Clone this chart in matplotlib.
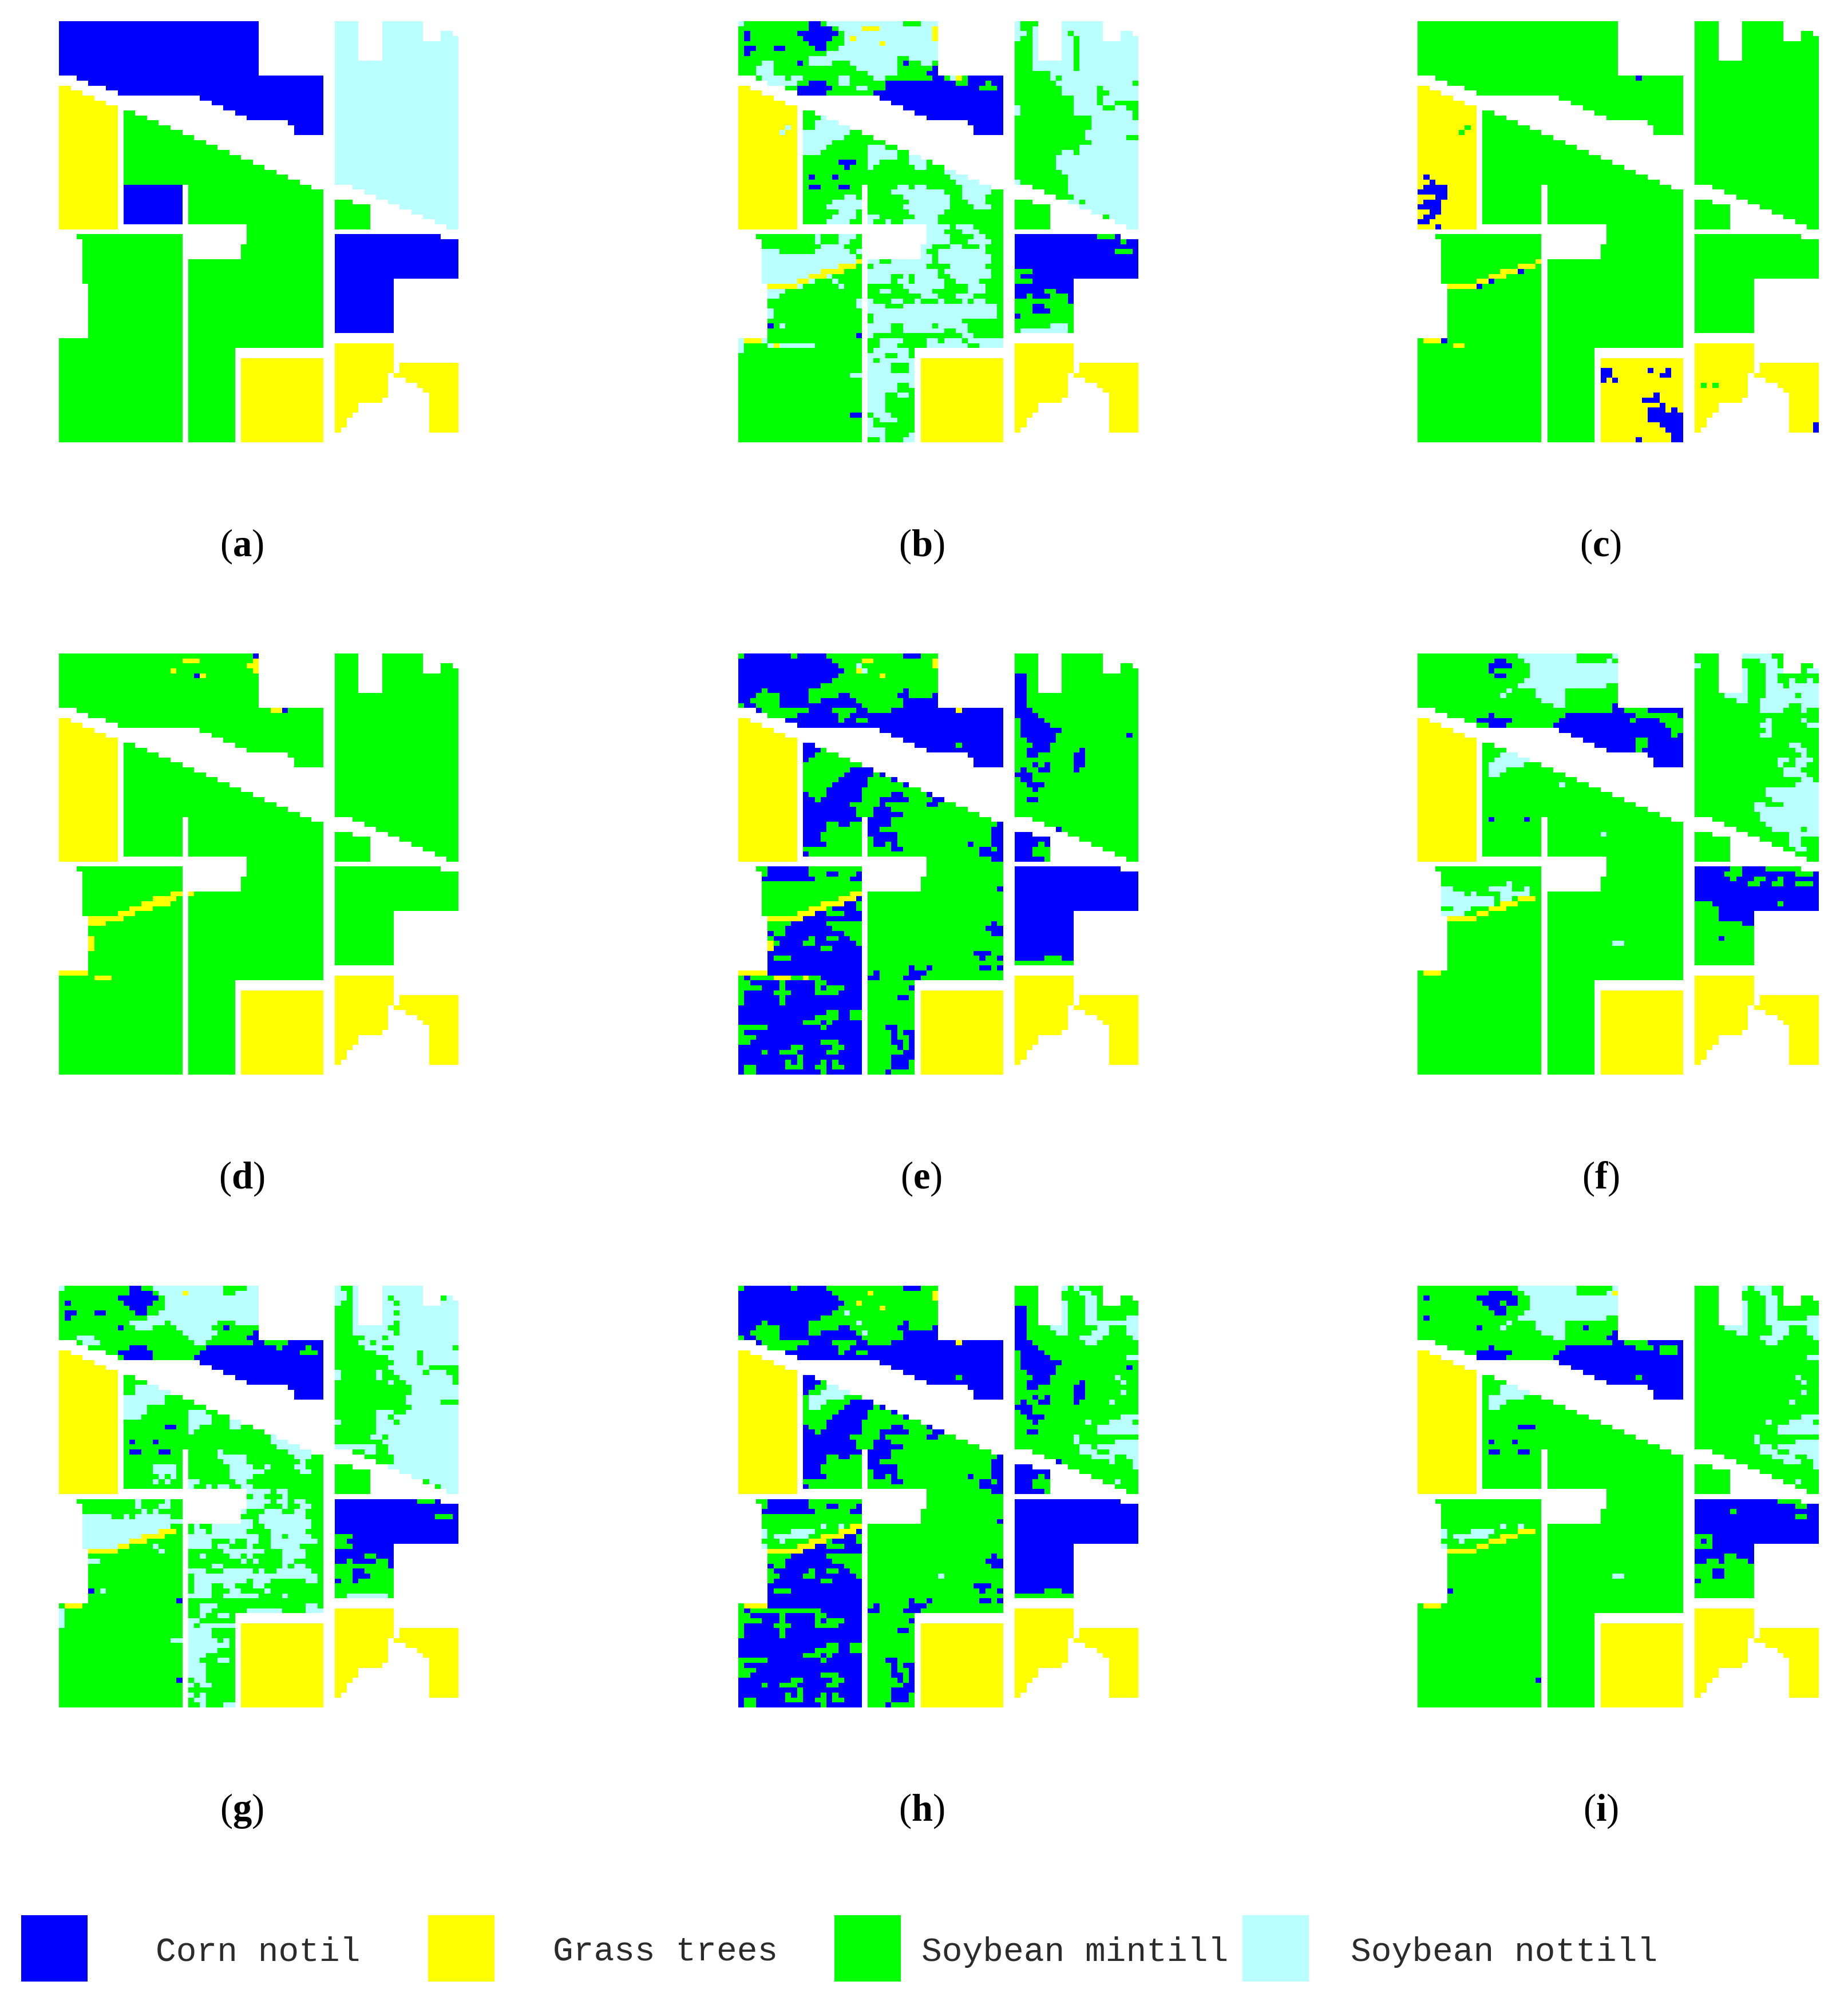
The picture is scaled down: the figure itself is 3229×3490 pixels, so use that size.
"""Mapas de clasificacion (a)-(i) sobre la misma escena, con leyenda abajo."""
import matplotlib
matplotlib.use("Agg")
import matplotlib.pyplot as plt
import numpy as np
from matplotlib.colors import ListedColormap
from matplotlib.patches import Rectangle

W, H = 3230, 3491
N_ROWS, N_COLS = 85, 68

BLANK, CORN, GRASS, MINT, NOTT = 0, 1, 2, 3, 4
CLASS_NAMES = ["Corn notil", "Grass trees", "Soybean mintill", "Soybean nottill"]
CLASS_COLORS = ["#0000ff", "#ffff00", "#00ff00", "#baffff"]
PANEL_LABELS = ["a", "b", "c", "d", "e", "f", "g", "h", "i"]

# Parcelas de la escena: "fila:col0-col1,..." (extremos excluidos)
FIELDS = [
    "0-11:0-34 11:3-45 12:5-45 13:8-45 14:10-45 15:24-45 16:26-45 17:28-45 18:30-45 19:32-45 20:39-45 21-23:40-45",
    "13:0-2 14:0-4 15:0-6 16:0-8 17-42:0-10",
    "18:11-13 19:11-15 20:11-17 21:11-19 22:11-21 23:11-23 24:11-25 25:11-27 26:11-29 27:11-31 28:11-33 29:11-35 "
    "30:11-37 31:11-39 32:11-41 33:22-43 34-41:22-45 41-45:32-45 45-48:31-45 48-66:22-45 66-85:22-30",
    "33-41:11-21",
    "43:3-21 44-53:4-21 53-64:5-21 64-85:0-21",
    "68-85:31-45",
    "0-2:47-51,55-62 2:47-51,55-62,65-67 3:47-51,55-62,65-68 4-8:47-51,55-68 8-33:47-68 33:50-68 34:52-68 "
    "35:54-68 36:56-68 37:58-68 38:60-68 39:62-68 40:64-68 41:66-68",
    "36:47-50 37-42:47-53",
    "43:47-65 44-52:47-68 52-63:47-57",
    "65-69:47-57 69-71:47-57,58-68 71:47-56,57-68 72:47-56,59-68 73:47-56,61-68 74:47-56,62-68 75:47-56,63-68 "
    "76:47-55,63-68 77-79:47-51,63-68 79:47-50,63-68 80-82:47-49,63-68 82:47-48,63-68",
]

# Clase base de cada parcela por panel
BASE_A = [CORN, GRASS, MINT, CORN, MINT, GRASS, NOTT, MINT, CORN, GRASS]
BASE_MIX = [MINT, GRASS, MINT, MINT, MINT, GRASS, NOTT, MINT, CORN, GRASS]
BASE_FLAT = [MINT, GRASS, MINT, MINT, MINT, GRASS, MINT, MINT, MINT, GRASS]
BASE_E = [MINT, GRASS, MINT, MINT, CORN, GRASS, MINT, CORN, CORN, GRASS]

# --- panel b
B_CORN = ("0:12-14 1:12-16 2:10-17 3:11-16 4:12-15 5:13-15 2-4:1 5:1-3,6-8 6:1 8:10,28 9:33 10:32-34 11:33-35,39-45 "
          "12:12-15,25-37,39-42,43-45 13:10-16,25-41,44 14:10-15,23-45 15-23:24-46 28:17-20 29:18 31:12,16 33:12-14,17-19 "
          "61:5 63:20 79:19-21 43:47-61,64 44:47-65,66-68")
B_NOTT = ("0:0,15-28,31-34 1:17-34 2-5:18-34 5:17-34 6:15-34 7:12-27,29-34 8:4-6,12-16,19-27,31-33 9:3-6,20-27 10:3-6,22-27 "
          "11:4-8,9-11,17-19,23-25,36 12:5-10,17-19 13:20-22 21:8 22:7 "
          "19:14 20:13-17 21:13-19 22:11-19 23:11-18 24:11-16 25:11-15,22-25 26:11-14,22-27 27:22-27,29-31 28:22-24,29-32 "
          "29:22,30-32 30:35-37 31:36-39 32:37-41 33:38-43,27-29,30-32 34:38-43,26-35 35:38-42,18-20,28-36 "
          "36:16-21,29-36,39-42 37:15-21,28-36,40-43 38:17-20,29-35 39:16-20,22-24,30-34 40:15-19,22,25,28-34 "
          "41:32-36,37-40 42:32-35,38-41 43:32-36,40-42 44:32-36,39-43 45:31-33,36-38,41 46:31,34-42 47:31-33,34-43 "
          "48:22-24,26-33,34-43 49:23-32,36-42 50:22-34,35-43 51:22-26,28,30-34,36-43 52:22-26,27-29,30-35,37-41 "
          "53:28-35,39-42 54:24-26,29-33,39-42 55:31-34,37-40 56:22,26-28,30,34,38,40-42 57:22-25,28-44 58:22-44 59:23-44 "
          "60:23-38 61:22-26,28-33,34-39 62:22-26,28-35,37-39 63:22,38-40 64:24-28,32-34,35-38,39-45 65:24-27,32-39,41-45 "
          "66:23-29 67:22-25,27-29 68:22,24-30 69-71:22-26,29 71-73:22-30 73:22-27,29 74:22-27 75:22-25,27-29 76-79:22-25 "
          "79:23-26 80:22,24-27 81:22 82-84:22-25 83:29 84:24,28-30 "
          "43:13,17-20 44:13,17-19 45:14-18 46:4-7,13-19,20 47-49:4-20 49:4-17 50:4-14 51:4-12,15 52:4-10,12,16 53:10,17 "
          "54:5-8 55:5-7 56-58:20 58-60:5 61:7 64:0,4 65:0,5,7-13 66:0 71:19-21")
B_MINT = ("0:28-31 18:37 "
          "0:48-51 1:48-50 2:49,56 3:48-50,57 4-8:47-50,57 8-10:47-50,57 10:47-53 11:47-53,54 12:47-54,67 13-15:47-55,61 14:47-55,61-63 "
          "15:47-57,61 16:47-57,61,64,65-68 17:48-57,62-64,66-68 18:48-57,67 19-22:47-60 19:67 22-24:47-59 23:66-68 24:47-60 "
          "25:47-58 26:47-55,57 27-30:47-54 30:47-55 31:47-56 32:48-56 33:50-56 34:52-56 35:54-57 36:58 39:62 "
          "43:61-64 44:65 46:64-67 50:47-50 51:47 52:47-50 54:52-54 55:49,53-56 56:47-56 57-59:47-50,53-57 59:48-57 60:47-57 "
          "61:47-53,56 62:47,56 57:52-57")
B_NOTT2 = "61:53-56 62:48-56"
B_GRASS = ("1:21-24 1-3:33 3:33,19 4:24 11:37 48:20 49:17-20 50:14-18 51:12-15 52:10-12 53:5-10 64:1-4 65:6")

# --- panel c
C_CORN = ("11:37 31:1 32:2 33:1-5 34:0-5 35:3-5 36:1-4 37:0-4 38:2-4 39:1-3 40:0-2 41:3 50:17 52:12 53:10 64:4 "
          "70:31-33,39,42 71:31-33,41-43 72:31,33 75:40 76:38-41 77:41 78:39-42,43 79-81:39-45 81:41-45 82:42-45 83:43-45 "
          "84:37,43-45 81-83:67")
C_MINT = "21:8 22:7 73:48,50"
C_GRASS = "48:20 49:17-20 50:14-17 51:12-15 52:10-12 53:5-10 64:1-4 65:6-8"

# --- panel d
D_CORN = "0:33 4:23 11:38"
D_GRASS = ("1:21-24,33 2:32-34 3:33,19 4:24 11:36-38 48:19-21,22 49:16-20 50:14-19 51:12-16 52:10-13 53:5-11 54:5-8 "
           "57-60:5 64:0-5 65:6-9")

# --- paneles e y h (muy parecidos)
EH_CORN = ("0:1-9,10-15,28-31 1:0-16 2:0-17 3:0-18 4:0-17 5:0-16 6:0-14 7:0-4,5-12,28 8:0-3,7-12,17-19,27-29,33 "
           "9:0-2,7-12,14-20,28-34 10:1-3,7-21,28-34 11:3,12-16,20-22,26-45 12:10-17,19-45 13:8-17,18-20,22-45 14:10-45 "
           "15-23:24-46 18:11-13 19:11-14 20:11-13 21:11 23:19-23 24:18-23,24 25:17-22,26 26:16-22,28 27:15-21 "
           "28:11,15-21,26-28,32 29:11-13,14-21,24-29,33-35 30:11-19,24,32-34 31:11-20,23-26 32:11-20,23-28 33:11-21,22-26 "
           "34:11-15,17-19,22-26,44 35:11-15,22-24,43-45 36:11-14,22-27,43-45 37:11-14,23-27,43-45 38:11-15,23-25,26,39,43-45 "
           "39:26-28,41-43,44 40:11,41-45 41:43-45 47:44 54:43 55:42-45 56:43-45 60:40-43 61:41,44 63:29,32,41-43,44 "
           "64:23,29-32 65:22-24,28-31 67:29 69:27-29 75:25-27 76:26,28-30 77:26,29 78:26-28,29 79:27,29 80:28-30 81:26-30 "
           "82-84:26-29 84:25 "
           "4-11:47-49 11:47-50 12:47-51 13:48-52 14:48-53 15:48-55 16:48-54,66 17:49-54 18:50-53 19:49-53,58 20:49-51,57-59 "
           "21:57-59 22:50,52,57-59 23:48,51-53,57 24:47-50 25:48-50 26:49-52 27:50 29:49-51 35:54")
EH_MINT = ("18:37 43:3-5,12-21 44:4,12-15,17-20 45:13-19 46-48:4-21 48:4-19 49:4-17 50:4-14,20 51:4-12,15,20 "
           "52:4-10,15-18 54:5-9,15-21 55:5-8,16-21 56:6-8,18-21 57:5,12,15-17,19-21 58:6,11-13,20 59:14-16 61:6-9 "
           "65:0,2-6,9-11,12-14 66:0-2,7,13-15 67:0-4,7,13,15-18 68:0,6-9,13-17 69-71:0,7 72:15-17,19-21 73:13-17,19-21 "
           "74:11-14,15 75:0-5,14 76:0 77:0-3 78:0-2,14-17 79:9-11,16-18 80:4,7-10,15-17 81:10 82:8,10,14,16 "
           "83:1-3,8-11,13-15,16-18 84:1-3,14 "
           "38:51 39-41:50-53 41:52 61:52-55 62:47-57")
E_NOTT = "2:20 3:21"
E_GRASS = ("1:21-23 1-3:33 3:20 4:24 11:37 48:19-21 49:17-20 50:14-18 51:12-15 52:10-13 53:5-11 58-60:5 64:0-5 65:6-9,11")
H_MINT = "65:2-14 58-60:5 64:0"
H_NOTT = ("5:18 7:20 9:21 20:15-17 21:14-19 22:12-18 23:12-15 24:12-14 48:14,17 49:4,9-13 50:4,6-12 51:7 52:4 58:34 "
          "0:55,57 1:58-60 2:59-61 3-7:59-61 3-8:55 6:66-68 7:59-68 8:53-56,61-63,66-68 9:54-56,60-63,66-68 10:58-62,67 "
          "11:59-61 14:66-68 18:64 19:65 21:65 23:63 26:65-68 27:59,63-67 28-30:61-68 30:57 31:57-58,64-68 32:58-60,61-68 "
          "33:58-61,63-68 34:60-64,66-68 35:63,67 36:67 39:64")
H_GRASS = "1:22 1-3:33 3:20 4:24 11:37 48:19-21 49:17-20 50:14-18 51:12-15 52:10-13 53:5-11 64:1-5"

# --- panel f
F_CORN = ("1:13-15 2:12-16 3:12 4:13-15 10:33 11:33-35,39-45 12:12,25-37,44 13:10-16,24-36,37-41 14:12-15,23-42 15:24-43 "
          "16:26-43,44 17:28-37,39-45 18:30-37,39-45 19:32-37,38-45 20-23:39-45 33:12,18 "
          "43:47-53,55-59,65 44:47-52,55-64,67 45:47-53,54-57,59-61,62-68 46:47-56,58-60,62-64,67 47-50:47-68 "
          "50:50-61,62-68 51:51-68 52-54:51-57 54:55-57 57:51")
F_NOTT = ("0:17-27,33 1:18-27,32 2-5:19-34 5:18-34 6:17-32 7:20-25,15 8:20-25,14 9:21-25 10:23-25 "
          "20:14-17 21:13-19 22:12-18 23:12-15 24:12-14 26:24 36:31 46:15 47:4-6,12-16,18 48:4-8,9,14-19 49:4-13,14-16 "
          "50:4-13 51:6-9 52:4-8 58:33-35 "
          "0:55-60 1:58-61 2:47,59-61 3:55,59-62,66-68 4:55,59-61 5:55,59-61,63,66 6:55,59-62,63-68 7:59-68,55 "
          "8:52-56,59-64,65-68 9:54-56,58-68 10:58-63,65-68 11:58-62,65 13:59,65 14:58-60,66-68 15:59 16:58-60 18:63-65 "
          "19:64-66 20:65 21:61-63,64-67 22:61,64-66 23:62-65 24:62-66 25:65-67 26:64-68 27-29:59-68 29:60-68 30:57-59,62-68 "
          "31:57-68 32-34:58-68 34:59-68 35:60-65,66-68 36:63-68 37-39:63-65 39:64-66")
F_GRASS = "49:17-20 50:14-17 51:12-15 52:10-12 53:5-10 64:1-4"

# --- panel g
G_CORN = ("0:12-14 1:12-16 2:10-17 3:11-16,1 4:12-15 5:1-3,6-8,13-15 6:1 8:10,28 9:33 10:32-34 11:33-35,39-45 "
          "12:12-15,25-37,38-42,43-45 13:10-16,24-41,44 14:11-16,23-45 15-23:24-46 28:18-20 31:12,16 33:12-14,17-19 "
          "61:5 63:20 79:20")
G_NOTT = ("0:0,16-28,32-34 1:17-28,30-34 2-5:18-34 5:17-34 6:15-34 7:12-18,19-27,30-34 8:13-16,20-26 9:21-27 10:3-6,22-26 "
          "11:4-7,23-25 20:13-17 21:13-19 22-24:11-18 24:11-15 25:11-15,22-25 26:11-14,22-26 27:22-26,29-31 28:22-24,29-31 "
          "29:22 30:36 31:36-39 32:37-41 33:39-43,27 34:27-32,40-43 35:28-32,41 36:16-20,29-33,35,40-42 37:16-20,29-35,41-43 "
          "38:17,19,29-33 39:16,18,22-24,30-32 40:22,25,27-29,31-33 41:32-36,37-39 42:33-35,38 43:32-36,37-39,40-42 "
          "44:32-35,38,41-43 45:31,35-38,40-42 46:34-42 47:31-33,34-43 48:23,26-33,35-43 49:23-25,26-32,36-42 "
          "50:22-34,36-38,39-43 51:22-26,29,32-34,36-44 52:22-26,27-29,32,36-41 53:28-35,38-42 54:24,29-31,32,38-42 "
          "55:31,33,38-40 56:26-28,38,40-42 57:22-25,28-33,34-35,37-43 58:23-27,27-44 59:23-32,33-36,42-44 60:23-26,28-30,33-35 "
          "61:23-26,29-31,35 62:22-26,28-34,38 64:24-27,42-44 65:24-26,32-38,42-45 66:24,27-29 67:22-24 68:22,24-30 69-71:22-26 "
          "71:22-27,28 72:22-29 73:22-27 74:22-25 75:22-24,27-29 76-79:22-25 79:23-25 80:22,24-26 82:22,24 83:23-25 84:24,28-30 "
          "43:13,18 44:13,17-19 45:14,16 46:4-9,11,13-19 47:4-21 48:4-19 49:4-17 50:4-14 51:4-12 52:4-10,16 53:17 55:5-7 61:7 "
          "65-69:0 71:19-21")
G_MINT = ("18:37 12:42 13:41-44 "
          "0:48-50 1:49 2:49,56,65 3:48-50,57 4-8:47-50 5:57 7:57 8:47-50,56-58 9:47-50,57 10:47-52,55 11:47-51,53 "
          "12:47-52,55-57,67 13:47-54,61 14:47-56,61-62 15:47-57,61 16:47-56,63-68 17:48-54,55-57,62,66-68 "
          "18:48-54,55-58,67 19:47-56,57-59,67 20-22:47-60 22:47-59 23:47-59,65-68 24:47-60 25:47-54,57-59 26:47-54,56 "
          "27:48-54,57 28-30:47-54 30:47-53,55 31:47-55 32:54-56 33:50-52,54-56 34:52-57 35:54-57 39:62 40:64 "
          "43:61-64 46:64-67 50:47-50 51:47-49 52:47-50 54:52-54 55:49,54-56 56:47-56 57:47-50,52-57 58:47-50,53-57 "
          "59:48-50,51-57 60-62:47-57 62:47-49,56")
G_NOTT2 = "62:49-56"
G_GRASS = "1:21 49:17-20 50:14-18 51:12-15 52:10-12 53:5-10 64:1-4"

# --- panel i
I_CORN = ("1:12-16 2:10-17,1 3:11-14,15-17 4:12-15 5:13-15 6:1 8:10,28 9:33 10:32-34 11:33-35,39-45 12:12,25-37,40,44 "
          "13:10-16,24-41,44 14:10-15,23-45 15-23:24-46 28:17-20 31:12,16 33:12-14,17-19 61:5 79:20 "
          "43:47-61,65 44:47-64,66-68 45:47-53,54-68 46:47-64,66-68 47-50:47-68 50:50-68 51:48,50-68 52:50-68 53:47-68 "
          "54:47-52,54-57 55:47-49,51,56 57-59:50-52 59:47")
I_MINT = "18:37"
I_NOTT = ("0:17-27,33 1:18-27,32 2-5:19-34 5:18-34 6:17-32 7:20-25,15 8:20-25,14 9:21-25 10:23-25 "
          "20:14-17 21:14-19 22:12-18 23:12-15 24:12-14 48:14,17 49:4,9-13 50:4,6-12 51:7 52:4 58:33-35 "
          "0:55,57-60 1:58-60 2:59-61 3-8:55 3-7:59-61 6:66-68 7:59-68 8:52-56,60-63,66-68 9:54-56,60-63,66-68 10:58-62,67 "
          "11:59-61 14:66-68 18:64 19:65 21:65 23:63 26:65-68 27:59,63-67 28-30:61-68 30:57 31:57-58,64-68 32:58-60,61-68 "
          "33:58-61,63-68 34:60-64,66-68 35:62-65,67 36:67 39:64")
I_GRASS = "1:33 49:17-20 50:14-17 51:12-15 52:10-12 53:5-10 64:1-4"

# parches de cada panel, en orden de pintado
PANEL_BASES = [BASE_A, BASE_MIX, BASE_FLAT, BASE_FLAT, BASE_E, BASE_FLAT, BASE_MIX, BASE_E, BASE_FLAT]
PANEL_PATCHES = [
    [],
    [(NOTT, B_NOTT), (MINT, B_MINT), (CORN, B_CORN), (NOTT, B_NOTT2), (GRASS, B_GRASS)],
    [(CORN, C_CORN), (MINT, C_MINT), (GRASS, C_GRASS)],
    [(CORN, D_CORN), (GRASS, D_GRASS)],
    [(CORN, EH_CORN), (MINT, EH_MINT), (NOTT, E_NOTT), (GRASS, E_GRASS)],
    [(CORN, F_CORN), (NOTT, F_NOTT), (GRASS, F_GRASS)],
    [(NOTT, G_NOTT), (MINT, G_MINT), (CORN, G_CORN), (NOTT, G_NOTT2), (GRASS, G_GRASS)],
    [(CORN, EH_CORN), (MINT, EH_MINT), (MINT, H_MINT), (NOTT, H_NOTT), (GRASS, H_GRASS)],
    [(CORN, I_CORN), (MINT, I_MINT), (NOTT, I_NOTT), (GRASS, I_GRASS)],
]

# posicion de los paneles en pixeles
COL_X = [(103, 801), (1290, 1989), (2477, 3178)]
ROW_Y = [(38, 774), (1143, 1879), (2248, 2985)]
LABEL_X = [422, 1610, 2797]
LABEL_Y = [955, 2060, 3165]
SWATCH_X = [37, 748, 1458, 2171]
TEXT_X = [272, 966, 1610, 2360]


def parse_runs(text):
    """Devuelve (fila0, fila1, col0, col1) desde 'f0-f1:c0-c1,c2 ...'."""
    runs = []
    for token in text.split():
        rows, cols = token.split(":")
        r0, r1 = (rows.split("-") + [None])[:2]
        r0 = int(r0)
        r1 = int(r1) if r1 else r0 + 1
        for col in cols.split(","):
            c0, c1 = (col.split("-") + [None])[:2]
            c0 = int(c0)
            c1 = int(c1) if c1 else c0 + 1
            runs.append((r0, r1, c0, c1))
    return runs


def build_fields():
    grid = np.zeros((N_ROWS, N_COLS), dtype=int)
    for idx, text in enumerate(FIELDS, start=1):
        for r0, r1, c0, c1 in parse_runs(text):
            grid[r0:r1, c0:c1] = idx
    return grid


def build_panel(fields, base, patches):
    grid = np.zeros_like(fields)
    for idx, cls in enumerate(base, start=1):
        grid[fields == idx] = cls
    for cls, text in patches:
        for r0, r1, c0, c1 in parse_runs(text):
            block = grid[r0:r1, c0:c1]
            block[fields[r0:r1, c0:c1] > 0] = cls
    return grid


def main():
    plt.rcParams["mathtext.fontset"] = "custom"
    plt.rcParams["mathtext.rm"] = "Liberation Serif"
    plt.rcParams["mathtext.bf"] = "Liberation Serif:bold"

    fig = plt.figure(figsize=(W / 100, H / 100), dpi=100, facecolor="white")
    cmap = ListedColormap(["#ffffff"] + CLASS_COLORS)
    fields = build_fields()

    for i, (base, patches) in enumerate(zip(PANEL_BASES, PANEL_PATCHES)):
        row, col = divmod(i, 3)
        x0, x1 = COL_X[col]
        y0, y1 = ROW_Y[row]
        ax = fig.add_axes([x0 / W, 1 - y1 / H, (x1 - x0) / W, (y1 - y0) / H])
        ax.imshow(build_panel(fields, base, patches), cmap=cmap, vmin=0, vmax=4,
                  interpolation="nearest", aspect="auto")
        ax.axis("off")
        fig.text(LABEL_X[col] / W, 1 - LABEL_Y[row] / H, rf"($\mathbf{{{PANEL_LABELS[i]}}}$)",
                 family="Liberation Serif", fontsize=48, ha="center", va="center", color="black")

    # leyenda en coordenadas de pixel
    over = fig.add_axes([0, 0, 1, 1])
    over.set_xlim(0, W)
    over.set_ylim(H, 0)
    over.axis("off")
    over.patch.set_alpha(0)
    for name, color, sx, tx in zip(CLASS_NAMES, CLASS_COLORS, SWATCH_X, TEXT_X):
        over.add_patch(Rectangle((sx, 3348), 116, 116, facecolor=color, edgecolor="none"))
        over.text(tx, 3427, name, family="Liberation Mono", fontsize=42.8, color="#2b2b2b",
                  ha="left", va="baseline")

    fig.savefig("out.png", dpi=100, facecolor="white")
    plt.close(fig)


if __name__ == "__main__":
    main()
